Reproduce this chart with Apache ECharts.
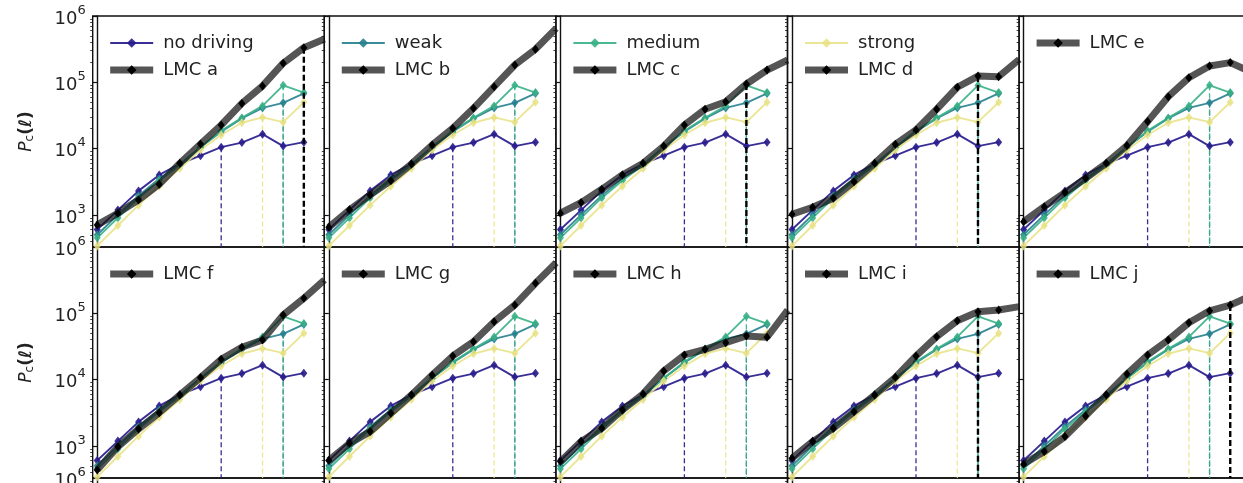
<!DOCTYPE html>
<html>
<head>
<meta charset="utf-8">
<script src="https://cdn.jsdelivr.net/npm/echarts@6/dist/echarts.min.js"></script>
<style>
html,body{margin:0;padding:0;background:#fff;}
#chart{width:1243px;height:483px;}
</style>
</head>
<body>
<div id="chart"></div>
<script>
// ---- data (x = multipole bin index) ----
const ell = [0, 1, 2, 3, 4, 5, 6, 7, 8, 9, 10, 11];
const noDriving = [600, 1180, 2300, 4000, 5900, 7800, 10500, 12300, 16500, 10900, 12500];
const weak      = [500, 1000, 1950, 3500, 5800, 10500, 18000, 28500, 41000, 49000, 68000];
const medium    = [450, 900, 1800, 3300, 5600, 10500, 18500, 29000, 44000, 90000, 70000];
const strong    = [340, 690, 1400, 2700, 5000, 9500, 16000, 24500, 29500, 25000, 50000];
const simNames  = ['no driving', 'weak', 'medium', 'strong'];
const simCut    = [6, 9, 9, 8];

const lmcA = [705, 1060, 1680, 2900, 6000, 11700, 22700, 48000, 88000, 194000, 333000, 450000];
const lmcB = [650, 1190, 2000, 3280, 5860, 11300, 20200, 40500, 86000, 182000, 315000, 650000];
const lmcC = [1060, 1530, 2430, 4000, 6000, 10900, 22700, 39200, 51000, 94300, 153000, 217000];
const lmcD = [1020, 1300, 1780, 3170, 6000, 11600, 19100, 39200, 84100, 124000, 121500, 222000];
const lmcE = [790, 1330, 2170, 3560, 6000, 11100, 25500, 60700, 117000, 176000, 198000, 143000];
const lmcF = [433, 970, 1800, 3170, 5860, 10700, 20200, 30700, 39500, 94200, 168000, 318000];
const lmcG = [600, 1090, 1640, 3100, 5860, 11700, 22700, 37300, 74700, 133000, 283000, 580000];
const lmcH = [580, 1160, 1840, 3480, 6070, 13500, 23500, 28600, 36000, 45500, 43500, 112000];
const lmcI = [650, 1160, 1840, 3280, 5860, 10800, 22700, 44400, 77300, 105700, 112000, 126000];
const lmcJ = [530, 820, 1380, 2830, 5860, 12100, 23500, 39500, 72100, 109000, 133000, 184000];
const lmcNames = ['LMC a', 'LMC b', 'LMC c', 'LMC d', 'LMC e', 'LMC f', 'LMC g', 'LMC h', 'LMC i', 'LMC j'];
const lmcCut   = [10, null, 9, 9, null, null, null, null, 9, 10];
const yMajorTicks = [1e3, 1e4, 1e5, 1e6];
const yMinorTicks = [400, 500, 600, 700, 800, 900,
  2000, 3000, 4000, 5000, 6000, 7000, 8000, 9000,
  20000, 30000, 40000, 50000, 60000, 70000, 80000, 90000,
  200000, 300000, 400000, 500000, 600000, 700000, 800000, 900000];

// ---- styling / layout ----
const sims = [noDriving, weak, medium, strong];
const lmcs = [lmcA, lmcB, lmcC, lmcD, lmcE, lmcF, lmcG, lmcH, lmcI, lmcJ];
const simColors = ['rgba(40,28,140,0.92)', 'rgba(38,128,142,0.9)', 'rgba(56,176,134,0.9)', 'rgba(232,226,130,0.85)'];
const LMC_LINE = 'rgba(20,20,20,0.72)';
const YMIN = Math.pow(10, 2.515), YMAX = 1e6;
const X0 = 92.7, PW = 231.6, PH = 231, TOPS = [16, 247, 478];
const XMIN = -0.218, XMAX = 10.99;
const FONT = 'DejaVu Sans';

const grids = [], xAxes = [], yAxes = [], yMinor = [], series = [], legends = [];

function fmtY(v) {
  const e = Math.round(Math.log10(v));
  return '{b|10}{s|' + e + '}';
}

let gi = 0;
for (let row = 0; row < 3; row++) {
  for (let col = 0; col < 5; col++) {
    const left = X0 + PW * col, top = TOPS[row];
    grids.push({left: left, top: top, width: PW, height: PH, show: true, outerBoundsMode: 'none',
      borderColor: '#111', borderWidth: 1.4, backgroundColor: 'transparent', containLabel: false});
    xAxes.push({type: 'value', gridIndex: gi, min: XMIN, max: XMAX,
      axisLine: {show: false}, axisTick: {show: false}, axisLabel: {show: false}, splitLine: {show: false}});
    yAxes.push({type: 'log', logBase: 10, gridIndex: gi, min: YMIN, max: YMAX,
      axisLine: {show: true, lineStyle: {color: '#111', width: 1.4}},
      axisTick: {show: true, length: 5, customValues: yMajorTicks, lineStyle: {color: '#111', width: 1.2}},
      splitLine: {show: false},
      axisLabel: {show: col === 0, customValues: yMajorTicks, formatter: fmtY, margin: 7, color: '#222',
        rich: {b: {fontSize: 18, fontFamily: FONT, color: '#222', lineHeight: 24, verticalAlign: 'bottom'},
               s: {fontSize: 13, fontFamily: FONT, color: '#222', lineHeight: 24, verticalAlign: 'top', padding: [0,0,8,0]}}},
      name: (col === 0 && row < 2) ? '{p|P}{c|c}{l|(ℓ)}' : '',
      nameLocation: 'middle', nameRotate: 90, nameGap: 57,
      nameTextStyle: {rich: {
        p: {fontSize: 17, fontStyle: 'italic', fontFamily: FONT, color: '#222'},
        c: {fontSize: 12, fontFamily: FONT, color: '#222', verticalAlign: 'bottom', padding: [6,0,0,0]},
        l: {fontSize: 17, fontFamily: FONT, fontWeight: 'bold', color: '#222'}}}
    });
    yMinor.push({type: 'log', logBase: 10, gridIndex: gi, min: YMIN, max: YMAX, position: 'left',
      axisLine: {show: false}, splitLine: {show: false}, axisLabel: {show: false},
      axisTick: {show: true, length: 2.5, customValues: yMinorTicks, lineStyle: {color: '#111', width: 0.8}}});
    gi++;
  }
}

for (let p = 0; p < 10; p++) {
  for (let s = 0; s < 4; s++) {
    const vals = sims[s];
    series.push({type: 'line', name: simNames[s], xAxisIndex: p, yAxisIndex: p,
      data: vals.map((v, i) => [ell[i], v]), symbol: 'diamond', symbolSize: [7, 9],
      itemStyle: {color: simColors[s]}, lineStyle: {color: simColors[s], width: 1.9},
      z: 3, animation: false, clip: true});
    const c = simCut[s];
    series.push({type: 'line', name: simNames[s] + ' cut', xAxisIndex: p, yAxisIndex: p,
      data: [[ell[c], vals[c]], [ell[c], YMIN]], symbol: 'none', silent: true,
      lineStyle: {color: simColors[s], width: 1.3, type: [5, 3]}, z: 2, animation: false});
  }
  const lv = lmcs[p];
  series.push({type: 'line', name: lmcNames[p], xAxisIndex: p, yAxisIndex: p,
    data: lv.map((v, i) => [ell[i], v]), symbol: 'diamond', symbolSize: [7, 9],
    itemStyle: {color: '#000'}, lineStyle: {color: LMC_LINE, width: 7},
    z: 4, animation: false, clip: true});
  if (lmcCut[p] !== null) {
    const c = lmcCut[p];
    series.push({type: 'line', name: lmcNames[p] + ' cut', xAxisIndex: p, yAxisIndex: p,
      data: [[ell[c], lv[c]], [ell[c], YMIN]], symbol: 'none', silent: true,
      lineStyle: {color: '#000', width: 2.4, type: [6, 3]}, z: 5, animation: false});
  }
  const items = [];
  if (p < 4) items.push({name: simNames[p], lineStyle: {width: 2, color: simColors[p]}, itemStyle: {color: simColors[p]}});
  items.push({name: lmcNames[p], lineStyle: {width: 7, color: LMC_LINE}, itemStyle: {color: '#000'}});
  const row = Math.floor(p / 5), col = p % 5;
  legends.push({orient: 'vertical', left: X0 + PW * col + 14, top: TOPS[row] + 18, padding: 0,
    data: items, itemWidth: 43, itemHeight: 12, itemGap: 9, selectedMode: false,
    textStyle: {fontSize: 18, fontFamily: FONT, color: '#222', padding: [0, 0, 0, 5]}});
}

const chart = echarts.init(document.getElementById('chart'), null, {renderer: 'canvas'});
chart.setOption({
  animation: false,
  backgroundColor: '#fff',
  grid: grids, xAxis: xAxes, yAxis: yAxes.concat(yMinor), series: series, legend: legends
});
</script>
</body>
</html>
